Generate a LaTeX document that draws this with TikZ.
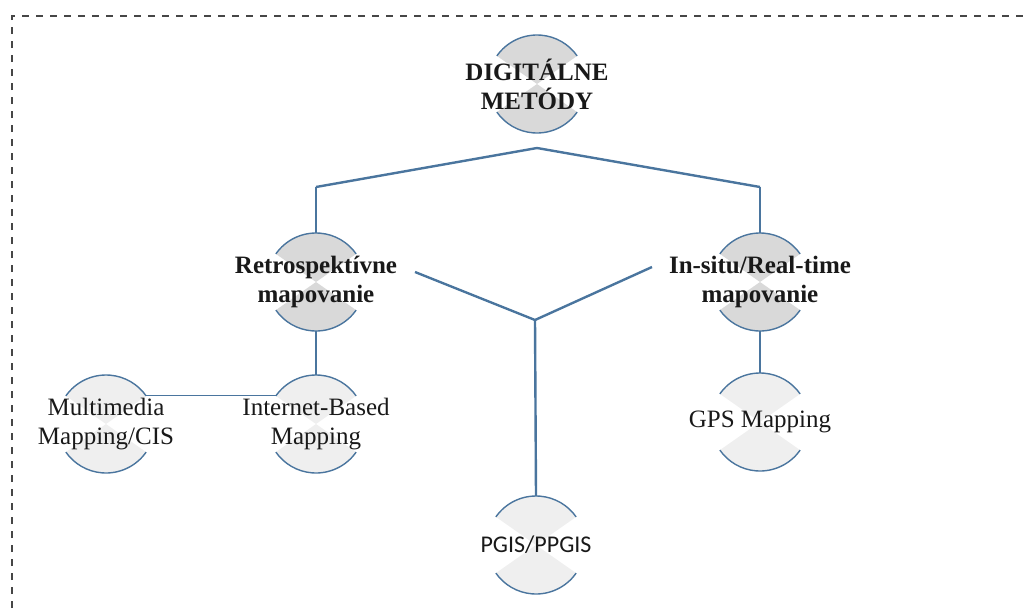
\documentclass[tikz,border=0pt]{standalone}
\usepackage{fontspec}
\setmainfont{Liberation Serif}
\newfontfamily\sansf{Carlito}
\usetikzlibrary{backgrounds}
\definecolor{lineblue}{RGB}{74,117,158}
\definecolor{darkfill}{RGB}{217,217,217}
\definecolor{lightfill}{RGB}{239,239,239}
\definecolor{framegray}{RGB}{70,70,70}
\tikzset{
  btshape/.style={circle, minimum size=98pt, inner sep=0pt},
  bt/.style={btshape, label={[align=center, font=\fontsize{25}{29}\selectfont, text=black!90]center:#1}},
  btb/.style={btshape, label={[align=center, font=\fontsize{25}{29}\selectfont\bfseries, text=black!90]center:#1}},
  btsans/.style={btshape, label={[align=center, font=\fontsize{24}{28}\selectfont\sansf, text=black!90]center:#1}},
  thickline/.style={draw=lineblue, line width=2.4pt},
  thinline/.style={draw=lineblue, line width=1.3pt},
  arcline/.style={draw=lineblue, line width=1.4pt},
  frame/.style={draw=framegray, line width=1.6pt, dash pattern=on 7pt off 7pt},
}
\begin{document}
\begin{tikzpicture}[x=1pt,y=-1pt]
\useasboundingbox (0,0) rectangle (1030,608);
\draw[frame] (12,608) -- (12,16) -- (1030,16);

\node[btb={DIGIT\'ALNE\\MET\'ODY}] (dig) at (537,84) {};
\node[btb={Retrospekt\'ivne\\mapovanie}] (retro) at (316,282) {};
\node[btb={In-situ/Real-time\\mapovanie}] (insitu) at (760,282) {};
\node[bt={Multimedia\\Mapping/CIS}] (mm) at (106,424) {};
\node[bt={Internet-Based\\Mapping}] (inet) at (316,424) {};
\node[bt={GPS Mapping}] (gps) at (760,422) {};
\node[btsans={PGIS/PPGIS}] (pgis) at (536,545) {};

\begin{scope}[on background layer]
\foreach \n/\c in {dig/darkfill, retro/darkfill, insitu/darkfill, mm/lightfill, inet/lightfill, gps/lightfill, pgis/lightfill}{
  \fill[\c] (\n.center) -- ([shift={(35:49)}]\n.center) arc (35:145:49) -- cycle;
  \fill[\c] (\n.center) -- ([shift={(215:49)}]\n.center) arc (215:325:49) -- cycle;
  \draw[arcline] ([shift={(35:49)}]\n.center) arc (35:145:49);
  \draw[arcline] ([shift={(215:49)}]\n.center) arc (215:325:49);
}
\end{scope}

\coordinate (apex) at (537,148);
\coordinate (jl) at (316,187);
\coordinate (jr) at (760,187);
\draw[thickline] (jl) -- (apex) -- (jr);
\draw[thinline] (jl) -- (retro.north);
\draw[thinline] (jr) -- (insitu.north);

\coordinate (yl) at (415,272);
\coordinate (yr) at (652,267);
\coordinate (yj) at (535,320);
\draw[thickline] (yl) -- (yj) -- (yr);
\draw[thickline] (yj) -- (pgis.north);

\draw[thinline] (retro.south) -- (inet.north);
\draw[thinline] (insitu.south) -- (gps.north);
\draw[thinline] (mm.35) -- (inet.145);
\end{tikzpicture}
\end{document}
